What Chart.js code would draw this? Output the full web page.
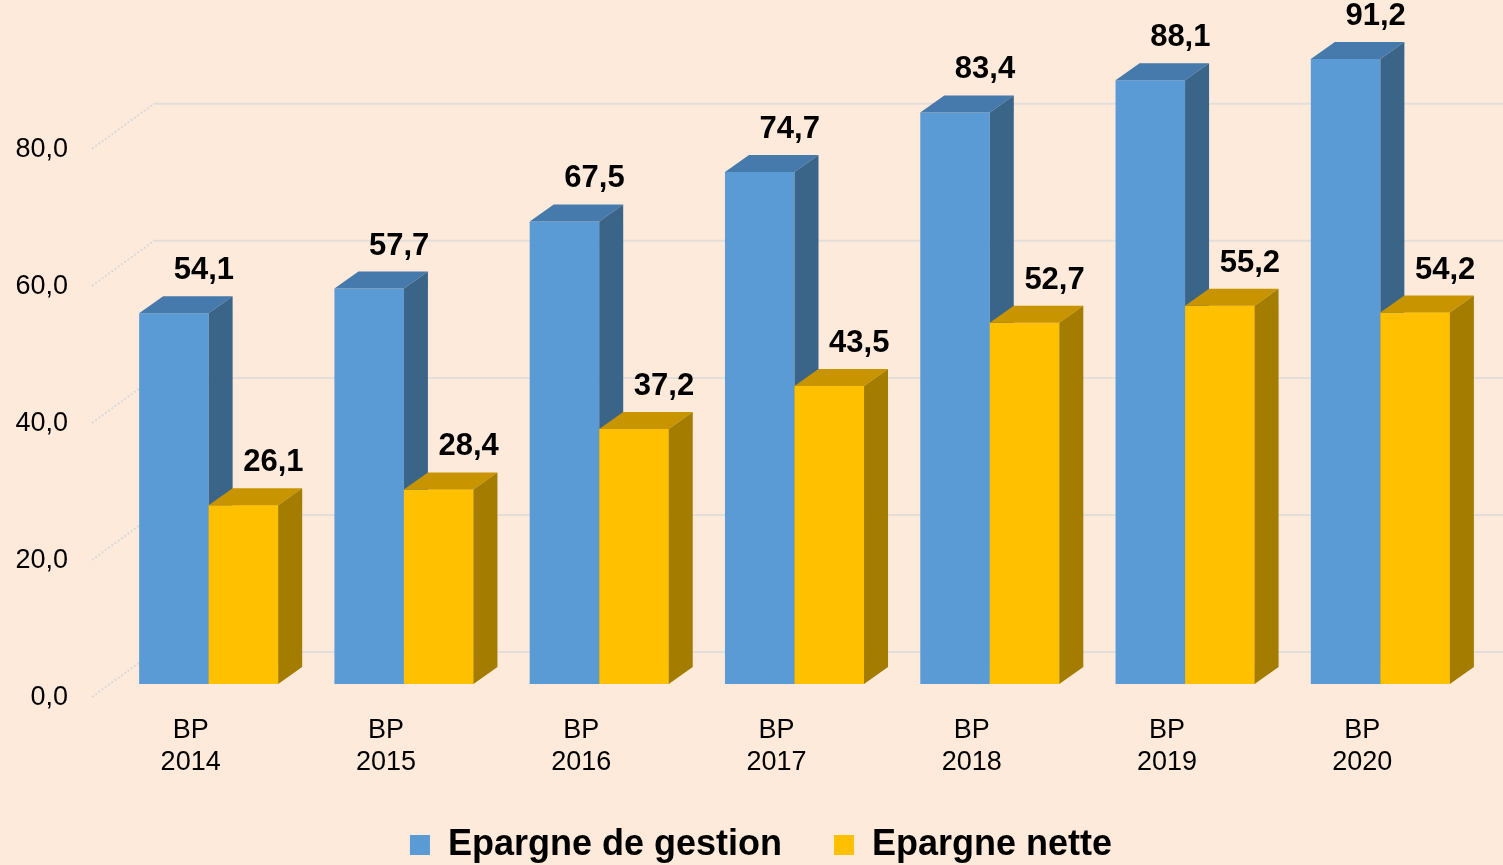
<!DOCTYPE html>
<html>
<head>
<meta charset="utf-8">
<script src="https://cdn.jsdelivr.net/npm/chart.js@4"></script>
<style>
  html, body { margin: 0; padding: 0; background: #FDEADA; overflow: hidden; }
</style>
</head>
<body>
<canvas id="epargneChart" width="1503" height="865"></canvas>
<script>
// --- DATA ---
const categories = [['BP', '2014'], ['BP', '2015'], ['BP', '2016'], ['BP', '2017'], ['BP', '2018'], ['BP', '2019'], ['BP', '2020']];
const epargneGestion = [54.1, 57.7, 67.5, 74.7, 83.4, 88.1, 91.2];
const epargneNette = [26.1, 28.4, 37.2, 43.5, 52.7, 55.2, 54.2];
const yTicks = [0, 20, 40, 60, 80];

// colours of the 3 visible faces of each bar (front / top / right side)
const faces = [
    { front: '#5B9BD5', top: '#4679AC', side: '#3A6589' },
    { front: '#FFC000', top: '#C89500', side: '#A37C00' }
];
const depth = { x: 24, y: -17 };   // depth of a bar
const fmt = v => v.toFixed(1).replace('.', ',');

// back wall: grid lines pushed back + little diagonals to the labels
const wall3d = {
    id: 'wall3d',
    afterLayout(chart) {
        // legend is a bit right of the canvas centre in the original
        chart.legend.left += 22;
        chart.legend.right += 22;
    },
    beforeDatasetsDraw(chart) {
        const { ctx, chartArea, scales: { y } } = chart;
        ctx.save();
        ctx.lineWidth = 2;
        yTicks.forEach(v => {
            const py = y.getPixelForValue(v);
            ctx.strokeStyle = '#D9D9D9';
            ctx.setLineDash([2, 2]);
            ctx.beginPath();
            ctx.moveTo(chartArea.left - 19, py + 13);
            ctx.lineTo(chartArea.left + 43, py - 32);
            ctx.stroke();
            ctx.setLineDash([]);
            ctx.strokeStyle = '#E2DEDA';
            ctx.beginPath();
            ctx.moveTo(chartArea.left + 43, py - 32);
            ctx.lineTo(chart.width, py - 32);
            ctx.stroke();
        });
        ctx.restore();
    },
    afterDatasetsDraw(chart) {
        const ctx = chart.ctx;
        ctx.save();
        chart.data.datasets.forEach((ds, i) => {
            chart.getDatasetMeta(i).data.forEach(bar => {
                const { x, y, base, width } = bar.getProps(['x', 'y', 'base', 'width'], true);
                const l = x - width / 2, r = x + width / 2;
                // the next series' front hides the side of the previous one
                if (i > 0) bar.draw(ctx);
                ctx.fillStyle = faces[i].top;
                ctx.beginPath();
                ctx.moveTo(l, y);
                ctx.lineTo(r, y);
                ctx.lineTo(r + depth.x, y + depth.y);
                ctx.lineTo(l + depth.x, y + depth.y);
                ctx.closePath();
                ctx.fill();
                ctx.fillStyle = faces[i].side;
                ctx.beginPath();
                ctx.moveTo(r, y);
                ctx.lineTo(r + depth.x, y + depth.y);
                ctx.lineTo(r + depth.x, base + depth.y);
                ctx.lineTo(r, base);
                ctx.closePath();
                ctx.fill();
            });
        });
        // value labels
        ctx.fillStyle = '#000';
        ctx.font = 'bold 31px "Liberation Sans", Arial, sans-serif';
        ctx.textAlign = 'center';
        ctx.textBaseline = 'alphabetic';
        chart.data.datasets.forEach((ds, i) => {
            chart.getDatasetMeta(i).data.forEach((bar, j) => {
                ctx.fillText(fmt(ds.data[j]), bar.x + 30, bar.y - 34);
            });
        });
        ctx.restore();
    }
};

Chart.defaults.color = '#000';
Chart.defaults.font.family = '"Liberation Sans", Arial, sans-serif';

new Chart(document.getElementById('epargneChart'), {
    type: 'bar',
    data: {
        labels: categories,
        datasets: [
            { label: 'Epargne de gestion', data: epargneGestion, backgroundColor: faces[0].front },
            { label: 'Epargne nette', data: epargneNette, backgroundColor: faces[1].front }
        ]
    },
    options: {
        responsive: false,
        animation: false,
        categoryPercentage: 0.712,
        barPercentage: 1,
        layout: { padding: { top: 33, right: 25, bottom: -8, left: 0 } },
        plugins: {
            tooltip: { enabled: false },
            legend: {
                position: 'bottom',
                labels: {
                    boxWidth: 20,
                    boxHeight: 20,
                    padding: 52,
                    font: { size: 36, weight: 'bold' }
                }
            }
        },
        scales: {
            x: {
                grid: { display: false, drawTicks: false },
                border: { display: false },
                ticks: { font: { size: 27 }, padding: 30, labelOffset: -18, maxRotation: 0 },
                afterFit: s => { s.height = 91; s.paddingLeft = 0; s.paddingRight = 0; }
            },
            y: {
                min: 0,
                max: 95,
                grid: { display: false, drawTicks: false },
                border: { display: false },
                afterBuildTicks: s => { s.ticks = yTicks.map(v => ({ value: v })); },
                ticks: {
                    font: { size: 27 },
                    padding: 43,
                    labelOffset: 14,
                    callback: v => fmt(v)
                },
                afterFit: s => { s.width = 111; s.paddingTop = 0; s.paddingBottom = 0; }
            }
        }
    },
    plugins: [wall3d]
});
</script>
</body>
</html>
